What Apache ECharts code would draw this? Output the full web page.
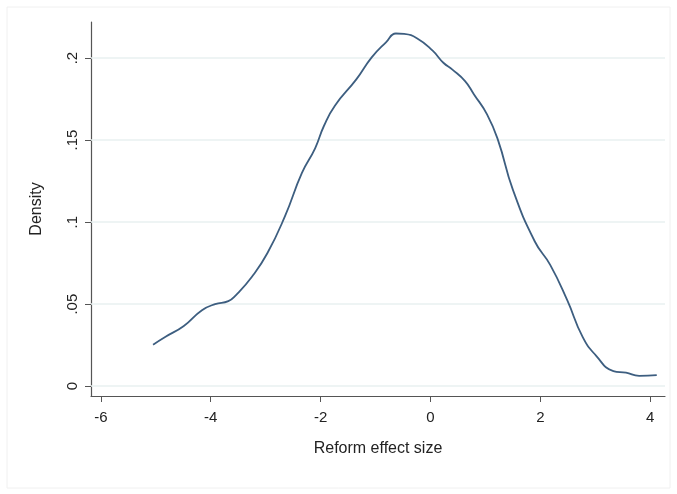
<!doctype html>
<html lang="en">
<head>
    <meta charset="UTF-8">
    <title>Reform effect size density</title>
    <style>
        html, body { margin: 0; padding: 0; background: #fff; }
        #main { width: 677px; height: 494px; }
    </style>
</head>
<body>
<div id="main"></div>
<script type="text/javascript" src="https://cdn.jsdelivr.net/npm/echarts@6/dist/echarts.min.js"></script>
<script type="text/javascript">
    // kernel density
    const effectSize = [-5.05, -4.83, -4.49, -4.16, -3.92, -3.68, -3.54, -3.25, -2.97, -2.65,
        -2.34, -2.10, -1.94, -1.74, -1.35, -1.07, -0.81, -0.63, -0.48, -0.24,
        0.04, 0.24, 0.40, 0.63, 0.79, 1.03, 1.23, 1.50, 1.90, 2.18,
        2.49, 2.77, 3.01, 3.33, 3.56, 3.80, 4.12];
    const density = [0.0253, 0.0300, 0.0367, 0.0463, 0.0500, 0.0518, 0.0555, 0.0667, 0.0810, 0.1035,
        0.1300, 0.1450, 0.1586, 0.1710, 0.1870, 0.2004, 0.2096, 0.2150, 0.2147, 0.2120,
        0.2045, 0.1970, 0.1930, 0.1860, 0.1780, 0.1657, 0.1500, 0.1198, 0.0882, 0.0739,
        0.0524, 0.0300, 0.0188, 0.0092, 0.0082, 0.0063, 0.0067];
    const xTicks = [-6, -4, -2, 0, 2, 4];
    const yTicks = [0, 0.05, 0.1, 0.15, 0.2];

    let myChart = echarts.init(document.getElementById('main'));
    let points = [];
    for (let i = 0; i < effectSize.length; i++) {
        points.push([effectSize[i], density[i]]);
    }
    let fontFamily = '"Liberation Sans", Arial, sans-serif';

    let option = {
        backgroundColor: '#fff',
        animation: false,
        graphic: [{
            type: 'rect',
            shape: {x: 7, y: 7, width: 663, height: 481},
            style: {fill: 'none', stroke: '#f0f0f0', lineWidth: 1},
            silent: true
        }],
        grid: {left: 91, right: 12, top: 22, bottom: 98},
        xAxis: {
            type: 'value',
            min: -6.18,
            max: 4.27,
            name: 'Reform effect size',
            nameLocation: 'middle',
            nameGap: 45,
            nameTextStyle: {fontSize: 16, color: '#222', fontFamily: fontFamily},
            axisLine: {onZero: false, lineStyle: {color: '#555', width: 1.2}},
            axisTick: {show: true, length: 6, customValues: xTicks, lineStyle: {color: '#555'}},
            axisLabel: {customValues: xTicks, margin: 14, fontSize: 15, color: '#222', fontFamily: fontFamily},
            splitLine: {show: false}
        },
        yAxis: {
            type: 'value',
            min: -0.006,
            max: 0.222,
            name: 'Density',
            nameLocation: 'middle',
            nameGap: 46,
            nameTextStyle: {fontSize: 16, color: '#222', fontFamily: fontFamily},
            axisLine: {show: true, onZero: false, lineStyle: {color: '#555', width: 1.2}},
            axisTick: {show: true, length: 6, customValues: yTicks, lineStyle: {color: '#555'}},
            axisLabel: {
                customValues: yTicks,
                rotate: 90,
                margin: 11,
                fontSize: 15,
                color: '#222',
                fontFamily: fontFamily,
                formatter: function (v) {
                    return v === 0 ? '0' : String(v).replace(/^0/, '');
                }
            },
            splitLine: {show: false}
        },
        series: [
            {
                // horizontal grid lines at the labelled ticks
                type: 'line',
                data: [],
                silent: true,
                z: 1,
                markLine: {
                    silent: true,
                    z: 1,
                    symbol: 'none',
                    label: {show: false},
                    lineStyle: {color: '#e8f0f1', width: 1.5, type: 'solid'},
                    data: yTicks.map(function (v) { return {yAxis: v}; })
                }
            },
            {
                name: 'Density',
                type: 'line',
                smooth: true,
                showSymbol: false,
                z: 3,
                lineStyle: {color: '#3d5e80', width: 1.8},
                data: points
            }
        ]
    };
    myChart.setOption(option);
</script>
</body>
</html>
